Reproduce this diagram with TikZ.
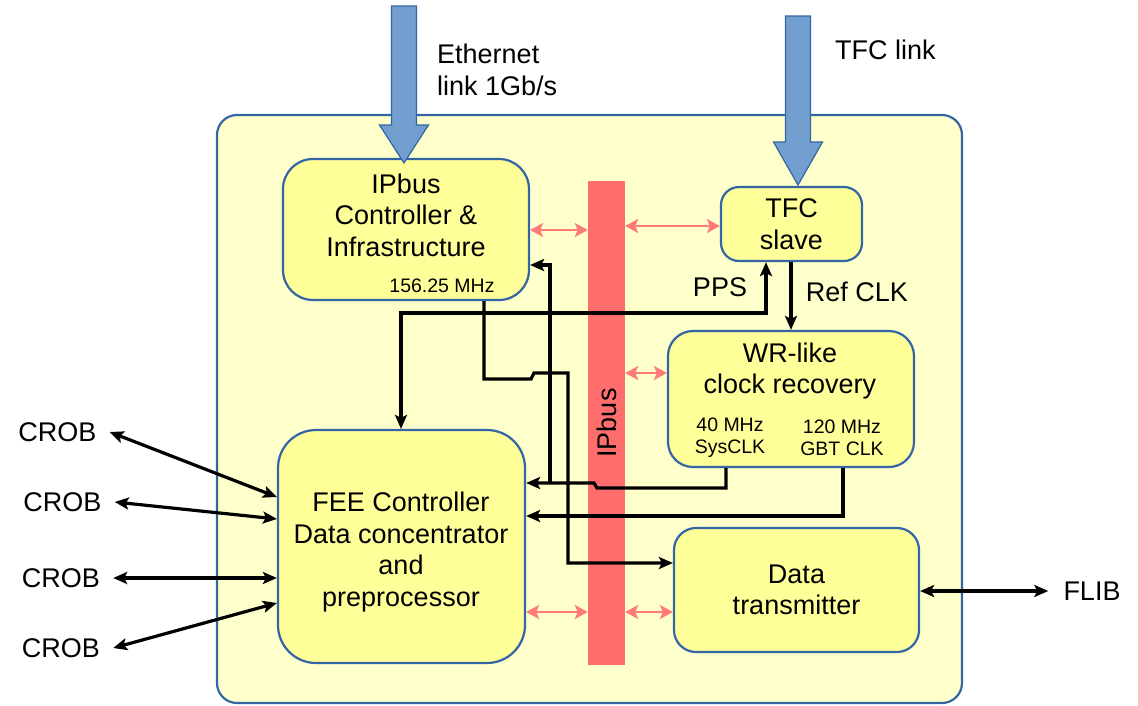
\documentclass[tikz,border=0pt]{standalone}
\usepackage{fontspec}
\setmainfont{Liberation Sans}
\usetikzlibrary{arrows.meta,calc}
\definecolor{boardfill}{HTML}{FFFFCC}
\definecolor{boxfill}{HTML}{FFFF99}
\definecolor{edgeblue}{HTML}{3465A4}
\definecolor{arrowblue}{HTML}{729FCF}
\definecolor{busred}{HTML}{FF6D6D}
\definecolor{linkred}{HTML}{FF7B7B}
\newcommand\fntL{\fontsize{27}{31.5}\selectfont}
\newcommand\fntS{\fontsize{19.5}{22}\selectfont}
\begin{document}
\begin{tikzpicture}[x=1pt,y=-1pt,
  >={Stealth[length=14pt,width=12pt,inset=3pt]},
  boardbox/.style={draw=edgeblue,line width=2.2pt,fill=boardfill,rounded corners=20pt,inner sep=0pt},
  block/.style={draw=edgeblue,line width=2.2pt,fill=boxfill,inner sep=0pt,align=center,font=\fntL},
  lbl/.style={inner sep=0pt,align=center,font=\fntL},
  smalltext/.style={inner sep=0pt,align=center,font=\fntS},
  crob/.style={lbl,inner xsep=13pt},
  wire/.style={line width=3.2pt,draw=black},
  busln/.style={line width=2.6pt,draw=linkred,{Stealth[length=13pt,width=14pt,inset=3pt]}-{Stealth[length=13pt,width=14pt,inset=3pt]}},
  bigarrow/.style={fill=arrowblue,draw=edgeblue,line width=1.2pt,line join=miter}
]
\useasboundingbox (0,0) rectangle (1138,705);

% board
\node[boardbox,minimum width=745pt,minimum height=588pt] (brd) at (589.5,409) {};

% IPbus bar
\node[fill=busred,minimum width=37pt,minimum height=484pt,inner sep=0pt] (bar) at (606.5,423) {};

% blocks
\node[block,rounded corners=30pt,minimum width=246pt,minimum height=141pt] (ipc) at (406,229.5) {};
\node[lbl] (ipclbl) at (406,215) {IPbus\\Controller \&\\Infrastructure};
\node[smalltext] (ipcclk) at (442,286) {156.25 MHz};

\node[block,rounded corners=18pt,minimum width=141pt,minimum height=74pt] (tfc) at (791.5,224) {TFC\\slave};

\node[block,rounded corners=25pt,minimum width=246pt,minimum height=136pt] (wr) at (791,399) {};
\node[lbl] (wrlbl) at (790,371) {WR-like\\clock recovery};
\node[smalltext] (sysclk) at (730,438) {40 MHz\\SysCLK};
\node[smalltext] (gbtclk) at (842,438) {120 MHz\\GBT CLK};

\node[block,rounded corners=38pt,minimum width=247pt,minimum height=233pt] (fee) at (401.5,546.5) {};
\node[lbl] (feelbl) at (401,552) {FEE Controller\\Data concentrator\\and\\preprocessor};

\node[block,rounded corners=22pt,minimum width=245pt,minimum height=124pt] (dt) at (796.5,590) {Data\\transmitter};

% outside labels
\node[lbl,anchor=west,align=left] (ethlbl) at (437,70) {Ethernet\\link 1Gb/s};
\node[lbl,anchor=west] (tfclbl) at (835,49.5) {TFC link};
\node[crob] (crob1) at (57.5,432) {CROB};
\node[crob] (crob2) at (62.5,502) {CROB};
\node[crob] (crob3) at (61,578) {CROB};
\node[crob] (crob4) at (61,648) {CROB};
\node[lbl,inner xsep=15pt] (flib) at (1092,591) {FLIB};
\node[lbl] (ppslbl) at (720,287) {PPS};
\node[lbl] (reflbl) at (857,292) {Ref CLK};

% bus links (red)
\coordinate (r1) at (0,230);
\coordinate (r2) at (0,226);
\coordinate (r3) at (0,373);
\coordinate (r4) at (0,612);
\draw[busln] (ipc.east |- r1) -- (bar.west |- r1);
\draw[busln] (bar.east |- r2) -- (tfc.west |- r2);
\draw[busln] (bar.east |- r3) -- (wr.west |- r3);
\draw[busln] (fee.east |- r4) -- (bar.west |- r4);
\draw[busln] (bar.east |- r4) -- (dt.west |- r4);

% PPS
\coordinate (ppsA) at (766,313);
\coordinate (ppsB) at (401,313);
\draw[wire,<->] (tfc.south -| ppsA) -- (ppsA) -- (ppsB) -- (fee.north -| ppsB);
% Ref CLK
\coordinate (refx) at (791,0);
\draw[wire,->] (tfc.south -| refx) -- (wr.north -| refx);

% IPbus clock to data transmitter
\coordinate (c1) at (484,379);
\coordinate (c2) at (531,379);
\coordinate (c3) at (534,373);
\coordinate (c4) at (568,373);
\coordinate (c5) at (568,563);
\draw[wire,->] (ipc.south -| c1) -- (c1) -- (c2) -- (c3) -- (c4) -- (c5) -- (dt.west |- c5);

% SysCLK
\coordinate (s1) at (726,488);
\coordinate (s2) at (597,488);
\coordinate (s3) at (594,483);
\coordinate (s4) at (550,483);
\coordinate (s5) at (550,265);
\draw[wire,->] (wr.south -| s1) -- (s1) -- (s2) -- (s3) -- (fee.east |- s3);
\draw[wire,->] (s4) -- (s5) -- (ipc.east |- s5);

% GBT CLK
\coordinate (g1) at (843,516);
\draw[wire,->] (wr.south -| g1) -- (g1) -- (fee.east |- g1);

% CROB links
\coordinate (f1) at (0,497);
\coordinate (f2) at (0,519);
\coordinate (f3) at (0,578);
\coordinate (f4) at (0,603);
\draw[wire,<->] (crob1.east) -- (fee.west |- f1);
\draw[wire,<->] (crob2.east) -- (fee.west |- f2);
\draw[wire,<->] (crob3.east) -- (fee.west |- f3);
\draw[wire,<->] (crob4.east) -- (fee.west |- f4);

% FLIB
\draw[wire,<->] (dt.east |- flib) -- (flib.west);

% bus label
\node[lbl,rotate=90] (barlbl) at (607,423) {IPbus};

% big blue input arrows
\draw[bigarrow] (391.5,6) -- (416.5,6) -- (416.5,125) -- (428.5,125) -- (404,163) -- (379.5,125) -- (391.5,125) -- cycle;
\draw[bigarrow] (785.5,16) -- (810.5,16) -- (810.5,142) -- (822.5,142) -- (798,185) -- (773.5,142) -- (785.5,142) -- cycle;
\end{tikzpicture}
\end{document}
